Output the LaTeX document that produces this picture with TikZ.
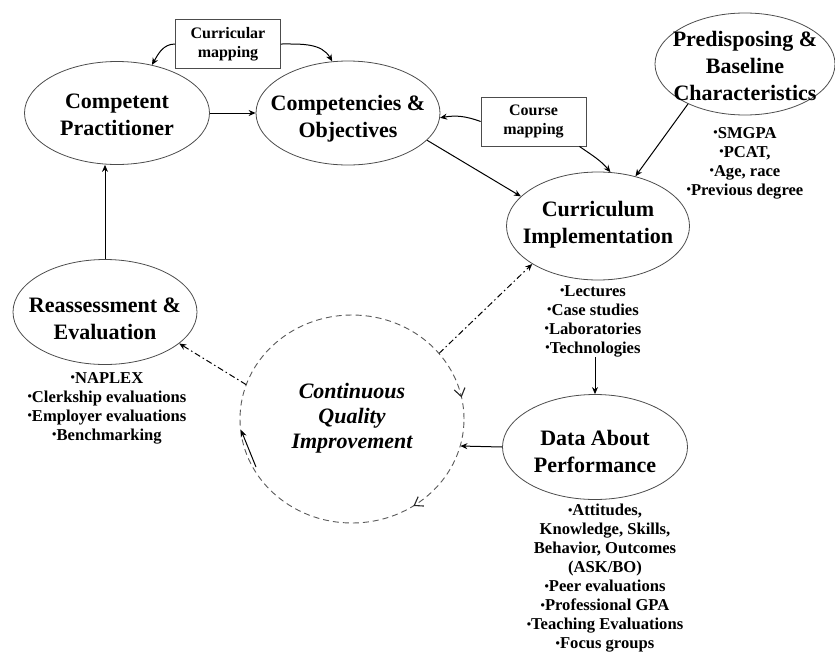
\documentclass[tikz,border=0pt]{standalone}
\usepackage{fontspec}
\setmainfont{Liberation Serif}
\usetikzlibrary{shapes.geometric,arrows.meta,decorations.markings,calc}
\newcommand\bul{\raisebox{0.2ex}{\scalebox{0.75}{•}}}
\begin{document}
\begin{tikzpicture}[x=1pt,y=1pt,
 oval/.style={ellipse,draw=black!70,line width=0.8pt,inner sep=0pt},
 big/.style={font=\bfseries\fontsize{22}{27}\selectfont,align=center,inner sep=0pt},
 small/.style={font=\bfseries\fontsize{16.6}{19}\selectfont,align=center,inner sep=0pt},
 mapbox/.style={draw=black!70,line width=0.8pt,font=\bfseries\fontsize{16}{19}\selectfont,align=center,minimum width=105pt,minimum height=49pt,inner sep=0pt},
 arr/.style={-{Stealth[length=7pt,width=6pt]},line width=1pt},
 dd/.style={arr,dash pattern=on 6pt off 3pt on 1.5pt off 3pt},
 cqiline/.style={draw=black!65,line width=0.9pt,dash pattern=on 6pt off 4pt},
]
\useasboundingbox (0,0) rectangle (835,-651);

% ovals
\node[oval,minimum width=185pt,minimum height=103pt] (cp) at (117,-113) {};
\node[big] (cpt) at (117,-115) {Competent\\Practitioner};
\node[oval,minimum width=184pt,minimum height=104pt] (co) at (348,-113) {};
\node[big] (cot) at (348,-119) {Competencies \&\\Objectives};
\node[oval,minimum width=183pt,minimum height=108pt] (ci) at (598,-226) {};
\node[big] (cit) at (598,-225) {Curriculum\\Implementation};
\node[oval,minimum width=180pt,minimum height=102pt] (pre) at (745,-64) {};
\node[big] (pret) at (745,-66) {Predisposing \&\\Baseline\\Characteristics};
\node[oval,minimum width=184pt,minimum height=105pt] (re) at (105,-312) {};
\node[big] (ret) at (105,-319) {Reassessment \&\\Evaluation};
\node[oval,minimum width=185pt,minimum height=105pt] (dp) at (595,-447) {};
\node[big] (dpt) at (595,-451) {Data About\\Performance};
\node[ellipse,minimum width=224pt,minimum height=208pt,inner sep=0pt] (cqi) at (352,-419) {};
\node[big,font=\bfseries\itshape\fontsize{22}{25}\selectfont] (cqit) at (352,-418) {Continuous\\Quality\\Improvement};

% bullet lists
\node[small] (preb) at (745,-163) {\bul SMGPA\\\bul PCAT,\\\bul Age, race\\\bul Previous degree};
\node[small] (cib) at (593,-321) {\bul Lectures\\\bul Case studies\\\bul Laboratories\\\bul Technologies};
\node[small] (reb) at (107,-408) {\bul NAPLEX\\\bul Clerkship evaluations\\\bul Employer evaluations\\\bul Benchmarking};
\node[small] (dpb) at (605,-578.5) {\bul Attitudes,\\Knowledge, Skills,\\Behavior, Outcomes\\(ASK/BO)\\\bul Peer evaluations\\\bul Professional GPA\\\bul Teaching Evaluations\\\bul Focus groups};

% boxes
\node[mapbox] (cm) at (228,-44) {Curricular\\mapping};
\node[mapbox] (course) at (533.5,-121.5) {Course\\mapping};

% dashed CQI circle
\draw[cqiline,postaction={decorate},decoration={markings,
  mark=at position 0.032 with {\arrowreversed{Straight Barb[length=8pt,width=11pt,line width=1.1pt,color=black!85]}},
  mark=at position 0.845 with {\arrowreversed{Straight Barb[length=8pt,width=11pt,line width=1.1pt,color=black!85]}}}]
  (cqi.center) ellipse [x radius=112, y radius=104];

% connectors
\draw[arr] (cm.west) to[out=180,in=60] (cp.54);
\draw[arr] (cm.east) to[out=0,in=120] (co.107);
\draw[arr] (cp.east) -- (co.west);
\draw[arr] (course.west) to[bend right=15] (co.-3);
\draw[arr] ([xshift=-7pt]course.south east) to[out=-35,in=130] (ci.77);
\draw[arr] (co.-19.5) -- (ci.159);
\draw[arr] (pre.215) -- (ci.53);
\draw[arr] (cib.south -| dp.north) -- (dp.north);
\draw[arr] (dp.west) -- (cqi.-14);
\draw[arr] (re.north) -- (re.north |- cp.south);
\draw[dd] (cqi.37) -- (ci.210);
\draw[dd] (cqi.162) -- (re.-23);
\coordinate (la) at (256,-467);
\coordinate (lb) at (241,-430);
\draw[arr] (la) -- (lb);
\end{tikzpicture}
\end{document}
